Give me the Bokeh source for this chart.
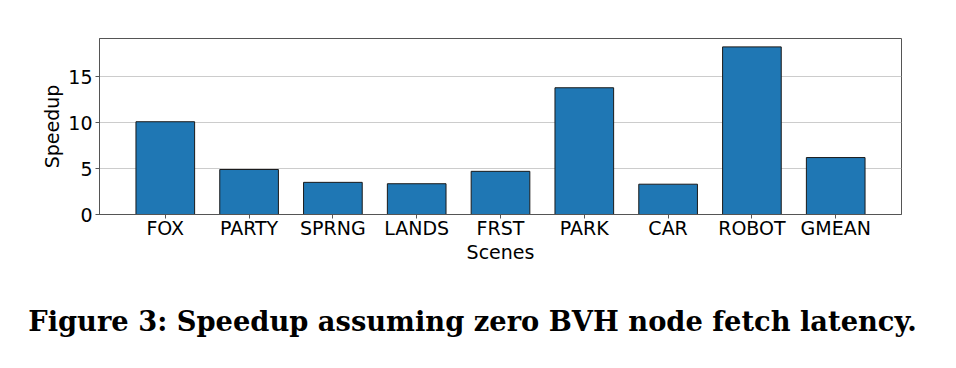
from bokeh.plotting import figure
from bokeh.layouts import column
from bokeh.models import ColumnDataSource, FixedTicker, Range1d
from bokeh.core.properties import value
from bokeh.embed import file_html
from bokeh.resources import INLINE

scenes = ["FOX", "PARTY", "SPRNG", "LANDS", "FRST", "PARK", "CAR", "ROBOT", "GMEAN"]
speedup = [10.1, 4.9, 3.5, 3.35, 4.7, 13.8, 3.3, 18.25, 6.2]
y_ticks = [0, 5, 10, 15]
caption = ["Figure 3: Speedup assuming zero BVH node fetch latency."]

W = 948
xs = list(range(len(scenes)))
src = ColumnDataSource(dict(x=xs, top=speedup))

p = figure(width=W, height=270, output_backend="svg", toolbar_location=None,
           x_range=Range1d(-0.785, len(scenes) - 1 + 0.785),
           y_range=Range1d(0, max(speedup) * 1.05),
           min_border_left=99, min_border_right=47, min_border_top=38,
           min_border_bottom=56, frame_align=False)

p.vbar(x="x", top="top", width=0.7, bottom=0, source=src,
       fill_color="#1f77b4", line_color="#1a1a1a", line_width=1)

p.outline_line_color = "#555555"
p.outline_line_width = 1
p.background_fill_color = "white"
p.border_fill_color = "white"

p.xgrid.grid_line_color = None
p.ygrid.grid_line_color = "#cccccc"
p.ygrid.grid_line_width = 1

p.xaxis.ticker = FixedTicker(ticks=xs)
p.xaxis.major_label_overrides = {i: s for i, s in enumerate(scenes)}
p.yaxis.ticker = FixedTicker(ticks=y_ticks)

for ax in (p.xaxis, p.yaxis):
    ax.axis_line_color = "#555555"
    ax.major_tick_line_color = "#555555"
    ax.major_tick_out = 4
    ax.major_tick_in = 0
    ax.minor_tick_line_color = None
    ax.major_label_text_font = "DejaVu Sans"
    ax.major_label_text_font_size = "19px"
    ax.major_label_text_color = "black"
    ax.axis_label_text_font = "DejaVu Sans"
    ax.axis_label_text_font_size = "19px"
    ax.axis_label_text_font_style = "normal"
    ax.axis_label_text_color = "black"

p.xaxis.axis_label = "Scenes"
p.yaxis.axis_label = "Speedup"
p.xaxis.major_label_standoff = -2
p.xaxis.axis_label_standoff = -1
p.yaxis.major_label_standoff = 3
p.yaxis.axis_label_standoff = 2

# caption strip (pixel-like data space)
CH = 90
c = figure(width=W, height=CH, output_backend="svg", toolbar_location=None,
           x_range=Range1d(0, W), y_range=Range1d(0, CH),
           x_axis_type=None, y_axis_type=None, min_border=0, frame_align=False)
c.outline_line_color = None
c.xgrid.grid_line_color = None
c.ygrid.grid_line_color = None
c.background_fill_color = "white"
c.border_fill_color = "white"
c.text(x=[472], y=[40], text=caption, text_align="center",
       text_baseline="alphabetic", text_font=value("DejaVu Serif"),
       text_font_style="bold", text_font_size="27.3px", text_color="black")

layout = column(p, c, spacing=0)
open("out.html", "w").write(file_html(layout, INLINE))
